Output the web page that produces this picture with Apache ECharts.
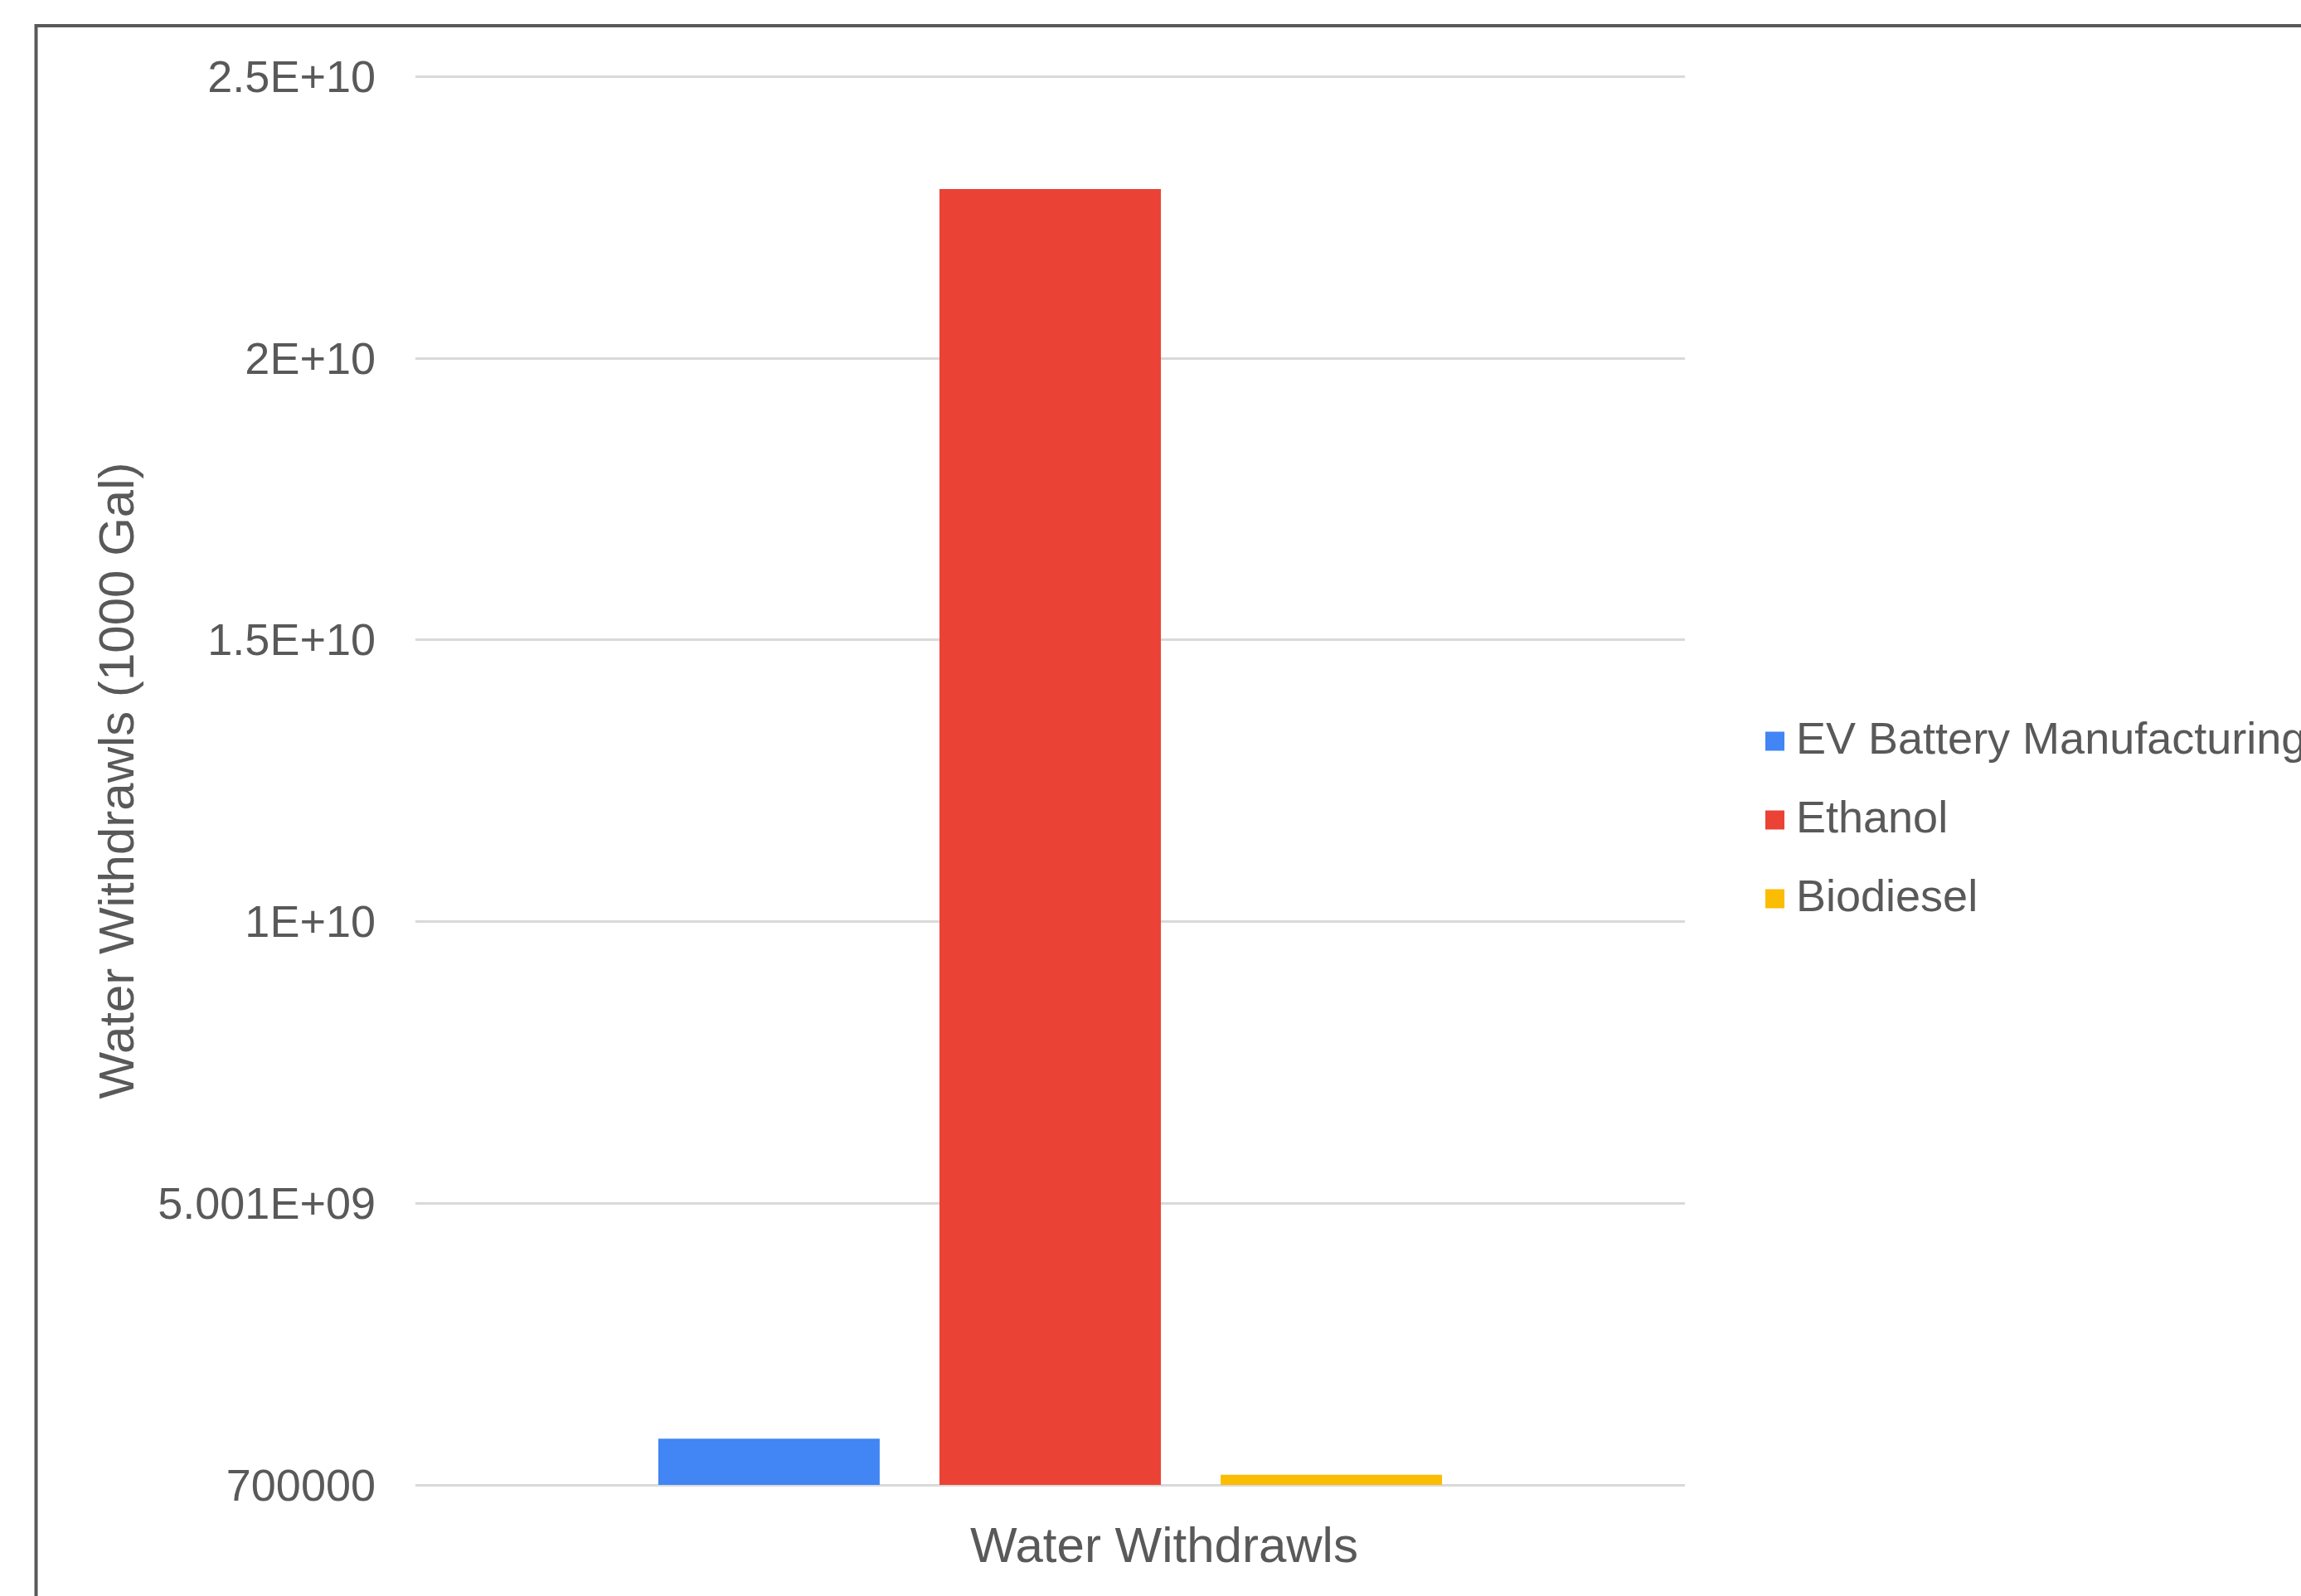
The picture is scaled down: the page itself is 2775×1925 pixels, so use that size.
<!DOCTYPE html>
<html>
<head>
<meta charset="utf-8">
<script src="https://cdn.jsdelivr.net/npm/echarts@6/dist/echarts.min.js"></script>
<style>
html,body{margin:0;padding:0;background:#fff;}
#chart{width:2775px;height:1925px;}
</style>
</head>
<body>
<div id="chart"></div>
<script>
// ---- data ----
var categories = ['Water Withdrawls'];
var seriesNames = ['EV Battery Manufacturing', 'Ethanol', 'Biodiesel'];
var evBattery = [8.2e8];
var ethanol = [2.3e10];
var biodiesel = [1.8e8];
var yTickLabels = ['700000', '5.001E+09', '1E+10', '1.5E+10', '2E+10', '2.5E+10'];
var seriesColors = ['#4285F4', '#EA4335', '#FBBC04'];

var FONT = '"Liberation Sans", Arial, sans-serif';
var TEXT = '#595959';

var chart = echarts.init(document.getElementById('chart'), null, {renderer: 'canvas'});
var seriesData = [evBattery, ethanol, biodiesel];

var option = {
  backgroundColor: '#ffffff',
  animation: false,
  textStyle: {fontFamily: FONT},
  grid: {left: 501, right: 743, top: 92, bottom: 134, containLabel: false},
  legend: {
    orient: 'vertical',
    left: 2124,
    top: 859,
    icon: 'rect',
    itemWidth: 23,
    itemHeight: 23,
    itemGap: 35,
    data: seriesNames,
    textStyle: {fontFamily: FONT, fontSize: 54, color: TEXT, lineHeight: 60, padding: [0, 0, 0, 9]}
  },
  xAxis: {
    type: 'category',
    data: categories,
    axisLine: {show: false},
    axisTick: {show: false},
    axisLabel: {show: false},
    name: 'Water Withdrawls',
    nameLocation: 'middle',
    nameGap: 46,
    nameTextStyle: {fontFamily: FONT, fontSize: 60, color: TEXT, padding: [0, 0, 0, 275]}
  },
  yAxis: {
    type: 'value',
    min: 0,
    max: 2.5e10,
    interval: 5e9,
    axisLine: {show: false},
    axisTick: {show: false},
    splitLine: {show: true, lineStyle: {color: '#d9d9d9', width: 3}},
    axisLabel: {
      fontFamily: FONT, fontSize: 54, color: TEXT, margin: 48,
      verticalAlign: 'top', lineHeight: 8,
      formatter: function (v, i) { return yTickLabels[i] !== undefined ? yTickLabels[i] : ''; }
    },
    name: 'Water Withdrawls (1000 Gal)',
    nameLocation: 'middle',
    nameGap: 327,
    nameTextStyle: {fontFamily: FONT, fontSize: 60, color: TEXT}
  },
  series: seriesNames.map(function (n, k) {
    return {
      name: n,
      type: 'bar',
      data: seriesData[k],
      barWidth: 267,
      barGap: '27%',
      itemStyle: {color: seriesColors[k]}
    };
  }),
  graphic: [{
    type: 'rect',
    shape: {x: 43.5, y: 31, width: 4000, height: 4000},
    style: {fill: 'none', stroke: '#595959', lineWidth: 4},
    silent: true,
    z: 100
  }]
};
chart.setOption(option);
</script>
</body>
</html>
